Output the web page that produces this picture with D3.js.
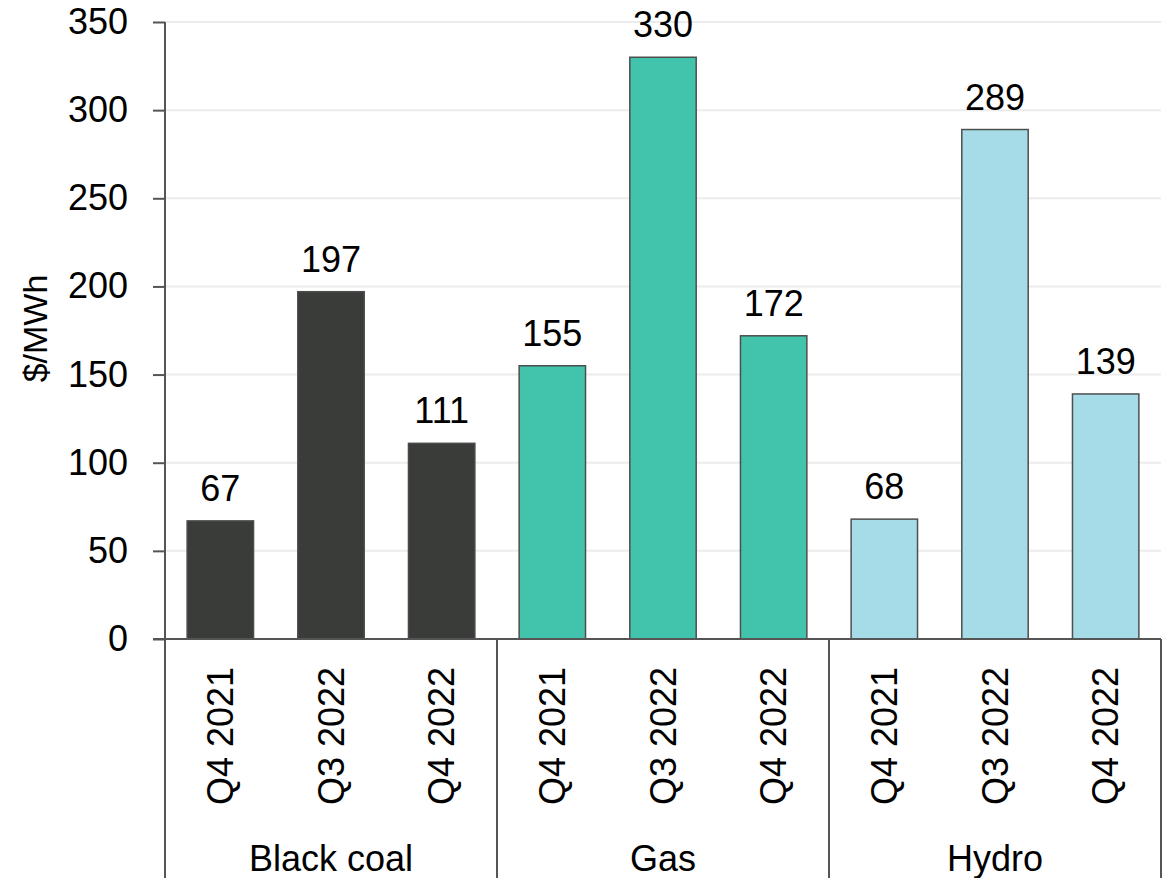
<!DOCTYPE html>
<html>
<head>
<meta charset="utf-8">
<script src="https://cdn.jsdelivr.net/npm/d3@7"></script>
<style>
  body { margin: 0; background: #fff; }
  text { font-family: "Liberation Sans", Arial, sans-serif; fill: #000; }
</style>
</head>
<body>
<div id="chart"></div>
<script>
// data
var groups = ["Black coal", "Gas", "Hydro"];
var periods = ["Q4 2021", "Q3 2022", "Q4 2022"];
var coalValues = [67, 197, 111];
var gasValues = [155, 330, 172];
var hydroValues = [68, 289, 139];
var yTicks = [0, 50, 100, 150, 200, 250, 300, 350];
var groupColors = ["#3a3c39", "#41c3ac", "#a6dce8"];

var svgWidth = 1173;
var svgHeight = 878;

var margin = { top: 22, right: 12, bottom: 239, left: 165 };
var width = svgWidth - margin.left - margin.right;
var height = svgHeight - margin.top - margin.bottom;

// flatten into one row per bar
var seriesValues = [coalValues, gasValues, hydroValues];
var rows = [];
groups.forEach(function(g, gi) {
  periods.forEach(function(p, pi) {
    rows.push({ key: g + "|" + p, group: g, gi: gi, period: p, value: seriesValues[gi][pi] });
  });
});

var svg = d3.select("#chart")
  .append("svg")
  .attr("width", svgWidth)
  .attr("height", svgHeight);

var chartGroup = svg.append("g")
  .attr("transform", `translate(${margin.left}, ${margin.top})`);

var xScale = d3.scaleBand()
  .domain(rows.map(d => d.key))
  .range([0, width])
  .paddingInner(0.4)
  .paddingOuter(0.2);

var yScale = d3.scaleLinear()
  .domain([0, 350])
  .range([height, 0]);

// gridlines
chartGroup.append("g")
  .selectAll("line")
  .data(yTicks.filter(t => t > 0))
  .enter()
  .append("line")
  .attr("x1", 0)
  .attr("x2", width)
  .attr("y1", d => yScale(d))
  .attr("y2", d => yScale(d))
  .attr("stroke", "#ececec")
  .attr("stroke-width", 2);

// bars
chartGroup.selectAll("rect.bar")
  .data(rows)
  .enter()
  .append("rect")
  .attr("class", "bar")
  .attr("x", d => xScale(d.key))
  .attr("y", d => yScale(d.value))
  .attr("width", xScale.bandwidth())
  .attr("height", d => height - yScale(d.value))
  .attr("fill", d => groupColors[d.gi])
  .attr("stroke", d => d.gi === 0 ? "#4a4c49" : "#4d4f4d")
  .attr("stroke-width", 1.5);

// value labels
chartGroup.selectAll("text.value")
  .data(rows)
  .enter()
  .append("text")
  .attr("class", "value")
  .attr("x", d => xScale(d.key) + xScale.bandwidth() / 2)
  .attr("y", d => yScale(d.value) - 20)
  .attr("text-anchor", "middle")
  .attr("font-size", "36px")
  .text(d => d.value);

// y axis
var leftAxis = d3.axisLeft(yScale)
  .tickValues(yTicks)
  .tickSize(12)
  .tickPadding(25);

var yAxis = chartGroup.append("g")
  .call(leftAxis);
yAxis.select(".domain").remove();
yAxis.selectAll("line").attr("stroke", "#555").attr("stroke-width", 2);
yAxis.selectAll("text")
  .attr("font-size", "36px")
  .attr("font-family", "Liberation Sans, Arial, sans-serif")
  .attr("fill", "#000");

// axis lines: left axis runs down through the category area
chartGroup.append("line")
  .attr("x1", 0).attr("x2", 0)
  .attr("y1", 0).attr("y2", svgHeight - margin.top)
  .attr("stroke", "#555").attr("stroke-width", 2);

chartGroup.append("line")
  .attr("x1", -12).attr("x2", width)
  .attr("y1", height).attr("y2", height)
  .attr("stroke", "#555").attr("stroke-width", 2);

// group separators
var boundaries = groups.map((g, gi) => {
  var last = rows.filter(d => d.gi === gi).slice(-1)[0];
  return xScale(last.key) + xScale.bandwidth() + xScale.step() * 0.2;
});
chartGroup.selectAll("line.sep")
  .data(boundaries)
  .enter()
  .append("line")
  .attr("class", "sep")
  .attr("x1", d => d).attr("x2", d => d)
  .attr("y1", height).attr("y2", svgHeight - margin.top)
  .attr("stroke", "#555").attr("stroke-width", 2);

// period labels (rotated)
chartGroup.selectAll("text.period")
  .data(rows)
  .enter()
  .append("text")
  .attr("class", "period")
  .attr("transform", d => `translate(${xScale(d.key) + xScale.bandwidth() / 2}, ${height + 166}) rotate(-90)`)
  .attr("dy", "0.35em")
  .attr("text-anchor", "start")
  .attr("font-size", "36px")
  .text(d => d.period);

// group labels
chartGroup.selectAll("text.group")
  .data(groups)
  .enter()
  .append("text")
  .attr("class", "group")
  .attr("x", (g, gi) => {
    var gr = rows.filter(d => d.gi === gi);
    return (xScale(gr[0].key) + xScale(gr[2].key) + xScale.bandwidth()) / 2;
  })
  .attr("y", height + 232)
  .attr("text-anchor", "middle")
  .attr("font-size", "36px")
  .text(d => d);

// y axis title
svg.append("text")
  .attr("transform", `translate(35, ${margin.top + height / 2 - 2}) rotate(-90)`)
  .attr("dy", "0.35em")
  .attr("text-anchor", "middle")
  .attr("font-size", "34px")
  .text("$/MWh");
</script>
</body>
</html>
